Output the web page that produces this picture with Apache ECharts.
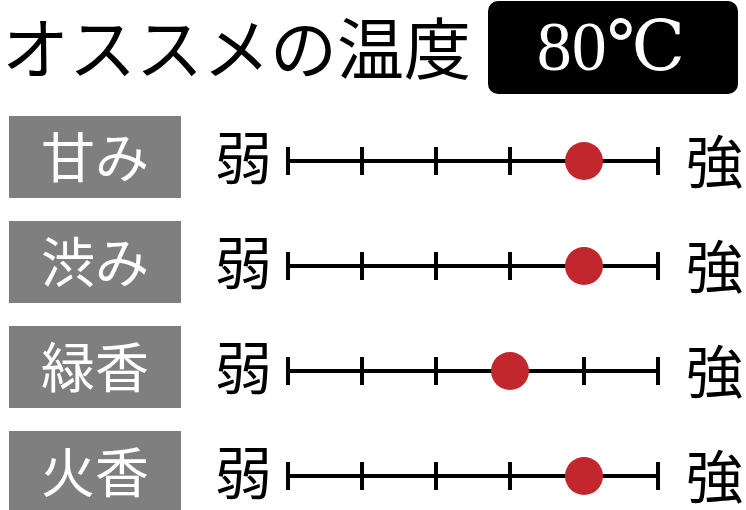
<!DOCTYPE html>
<html><head><meta charset="utf-8">
<script src="https://cdn.jsdelivr.net/npm/echarts@6/dist/echarts.min.js"></script>
<style>html,body{margin:0;padding:0;background:#fff}#c{width:746px;height:510px}</style>
</head><body><div id="c"></div>
<script>
const titleText = 'オススメの温度';
const tempText = '80℃';
const categories = ['甘み', '渋み', '緑香', '火香'];
const values = [4, 4, 3, 4];
const scaleMin = 0;
const scaleMax = 5;
const weakLabel = '弱';
const strongLabel = '強';

const rowTops = [161, 266, 371, 476];
const CJK = '"Noto Sans CJK JP", sans-serif';
const red = '#c1272d';
const gray = '#7f7f7f';

const grids = [], xAxes = [], yAxes = [], series = [];
categories.forEach((cat, i) => {
  grids.push({ left: 288, right: 88, top: rowTops[i], height: 0, containLabel: false });
  ['bottom', 'top'].forEach(pos => {
    xAxes.push({
      gridIndex: i, type: 'value', position: pos, min: scaleMin, max: scaleMax, interval: 1,
      axisLine: { show: true, onZero: false, lineStyle: { color: '#000', width: 4 } },
      axisTick: { show: true, length: 14, lineStyle: { color: '#000', width: 4 } },
      axisLabel: { show: false }, splitLine: { show: false }
    });
  });
  yAxes.push({
    gridIndex: i, type: 'category', data: [cat], position: 'left',
    axisLine: { show: false }, axisTick: { show: false }, splitLine: { show: false },
    axisLabel: {
      margin: 16, verticalAlign: 'middle', padding: [0, 0, 8, 0],
      formatter: v => '{box|' + v + '}{gap|}{w|' + weakLabel + '}',
      rich: {
        box: { width: 172, height: 82, lineHeight: 82, align: 'center', backgroundColor: gray,
               color: '#fff', fontSize: 54, fontFamily: CJK },
        gap: { width: 34 },
        w: { fontSize: 57, color: '#000', fontFamily: CJK }
      }
    }
  });
  yAxes.push({
    gridIndex: i, type: 'category', data: [cat], position: 'right',
    axisLine: { show: false }, axisTick: { show: false }, splitLine: { show: false },
    axisLabel: { margin: 28, formatter: () => strongLabel, fontSize: 57, color: '#000', fontFamily: CJK, padding: [0, 0, 8, 0] }
  });
  series.push({
    type: 'scatter', xAxisIndex: i * 2, yAxisIndex: i * 2,
    data: [[values[i], cat]], symbolSize: 38, itemStyle: { color: red, opacity: 1 }, z: 10
  });
});

const chart = echarts.init(document.getElementById('c'), null, { renderer: 'canvas' });
chart.setOption({
  animation: false,
  grid: grids, xAxis: xAxes, yAxis: yAxes, series: series,
  graphic: [
    { type: 'text', left: 2, top: 15, style: { text: titleText, fontSize: 67, fill: '#000', fontFamily: CJK } },
    { type: 'rect', shape: { x: 488, y: 1, width: 250, height: 93, r: 10 }, style: { fill: '#000' } },
    { type: 'text', x: 611, y: 52, style: { text: tempText, fontSize: 70, fill: '#fff', align: 'center', verticalAlign: 'middle', fontFamily: '"Liberation Serif", "DejaVu Serif", serif' } }
  ]
});
</script></body></html>
